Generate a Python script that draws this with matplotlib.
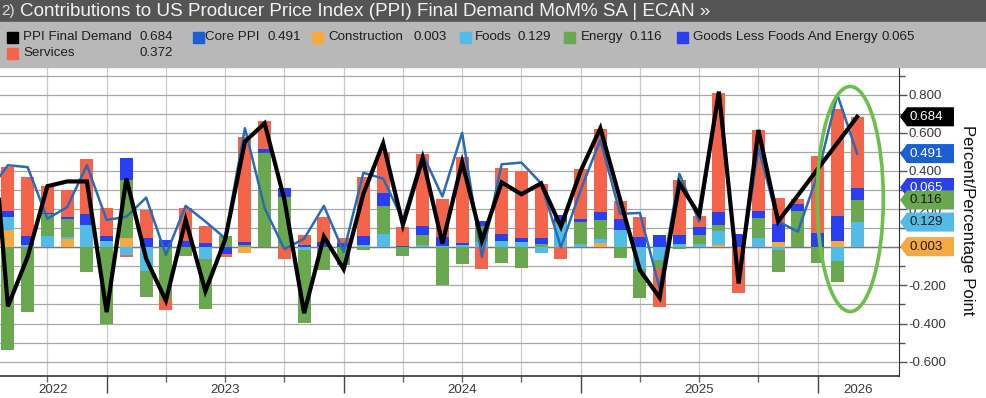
import numpy as np
import pandas as pd
import matplotlib
matplotlib.use("Agg")
import matplotlib.pyplot as plt
from matplotlib.patches import Polygon, Ellipse, Rectangle
from matplotlib.transforms import blended_transform_factory

plt.rcParams['font.family'] = ['Liberation Sans', 'DejaVu Sans']

# monthly observations, Jun 2022 .. Feb 2026 (Jun 2022 only feeds the lines)
months = pd.period_range("2022-06", "2026-02", freq="M")

construction = [np.nan, 0.09, 0.0, 0.0, 0.045, 0.0, 0.0, 0.05, 0.0, 0.0, 0.0, 0.0, 0.0,
                -0.028, 0.0, 0.0, 0.0, 0.0, 0.0, 0.0, 0.0, 0.0, 0.0, 0.0, 0.0, 0.0,
                0.0, 0.0, 0.0, 0.0, 0.0, 0.02, 0.0, 0.0, 0.0, 0.0, 0.0, 0.012, 0.0,
                0.0, 0.03, 0.0, 0.0, 0.035, 0.003]
foods = [np.nan, 0.07, 0.01, 0.06, 0.008, 0.117, 0.035, -0.04, -0.122, 0.0, 0.0, -0.06, 0.0,
         0.0, 0.0, 0.0, -0.015, 0.0, 0.0, 0.01, 0.068, 0.0, 0.01, 0.008, 0.01, 0.025,
         0.035, 0.026, -0.03, 0.12, 0.017, 0.024, 0.09, -0.115, -0.066, 0.017, 0.017, 0.072, 0.0,
         0.047, -0.017, 0.0, 0.0, -0.07, 0.129]
energy = [np.nan, -0.54, -0.34, 0.115, 0.096, -0.128, -0.40, 0.30, -0.14, -0.27, -0.045, -0.264, 0.06,
          0.012, 0.493, 0.266, -0.38, -0.12, -0.095, -0.017, 0.149, -0.044, 0.056, -0.20, -0.087, 0.085,
          -0.08, -0.107, 0.016, 0.015, 0.114, 0.10, -0.058, -0.15, -0.045, -0.01, 0.047, 0.035, 0.0,
          0.105, -0.115, 0.19, -0.084, -0.114, 0.116]
goods_ex = [np.nan, 0.03, 0.05, 0.005, 0.01, 0.058, 0.025, 0.12, 0.05, 0.036, 0.033, 0.02, -0.035,
            0.015, 0.023, 0.044, 0.013, 0.026, 0.02, 0.047, 0.066, 0.008, 0.047, 0.044, 0.014, 0.03,
            0.033, 0.02, 0.03, 0.032, 0.017, 0.04, 0.058, 0.056, 0.063, 0.047, 0.04, 0.068, 0.07,
            0.038, 0.09, 0.035, 0.077, 0.13, 0.065]
services = [np.nan, 0.23, 0.31, 0.143, 0.14, 0.29, 0.145, -0.013, 0.145, -0.06, 0.175, 0.092, -0.014,
            0.55, 0.147, -0.06, 0.05, 0.135, 0.03, 0.31, 0.215, 0.10, 0.378, 0.20, 0.45, -0.115,
            0.35, 0.353, 0.285, -0.06, 0.262, 0.437, 0.094, 0.10, -0.20, 0.29, 0.06, 0.622, -0.24,
            0.425, 0.14, 0.028, 0.40, 0.56, 0.372]
ppi_final = [0.93, -0.31, -0.05, 0.32, 0.345, 0.345, -0.34, 0.36, -0.06, -0.28, 0.143, -0.23, 0.04,
             0.554, 0.65, 0.25, -0.346, 0.056, -0.115, 0.28, 0.545, 0.117, 0.467, 0.02, 0.446, 0.035,
             0.34, 0.278, 0.335, 0.108, 0.40, 0.624, 0.25, -0.12, -0.264, 0.335, 0.17, 0.816, -0.19,
             0.615, 0.135, np.nan, np.nan, np.nan, 0.684]
core_ppi = [0.29, 0.43, 0.42, 0.15, 0.21, 0.43, 0.143, 0.16, 0.26, -0.04, 0.217, 0.135, 0.047,
            0.624, 0.205, -0.01, 0.045, 0.217, -0.025, 0.39, 0.36, 0.143, 0.488, 0.266, 0.60, -0.05,
            0.435, 0.444, 0.335, 0.0, 0.30, 0.563, 0.175, 0.18, -0.215, 0.385, 0.135, 0.80, -0.18,
            0.52, 0.135, 0.082, 0.38, 0.80, 0.491]

components = [("Construction", construction, "#f5a940"),
              ("Foods", foods, "#52bce6"),
              ("Energy", energy, "#6aa84f"),
              ("Goods Less Foods And Energy", goods_ex, "#2b3ff2"),
              ("Services", services, "#f4644b")]
c_core = "#1b5fd4"
c_core_line = "#2a6bb5"

W, H = 986, 398
fig = plt.figure(figsize=(W / 100, H / 100), dpi=100)
fx = lambda px: px / W
fy = lambda py: 1 - py / H

# header bands
fig.patches.append(Rectangle((0, fy(22)), 1, 22 / H, transform=fig.transFigure,
                             color="#555555", zorder=0))
fig.patches.append(Rectangle((0, fy(67)), 1, 45 / H, transform=fig.transFigure,
                             color="#b8b8b8", zorder=0))
fig.text(fx(1), fy(11), "2)", color="#dddddd", fontsize=11, va="center", ha="left")
fig.text(fx(20), fy(11.5), "Contributions to US Producer Price Index (PPI) Final Demand MoM% SA | ECAN \u00bb",
         color="#f2f2f2", fontsize=13.6, va="center", ha="left")

ax = fig.add_axes([0, fy(376), fx(899), (376 - 67) / H])
x = np.arange(len(months))

pos_bottom = np.zeros(len(x))
neg_bottom = np.zeros(len(x))
for name, vals, col in components:
    v = np.nan_to_num(np.array(vals, dtype=float))
    pos = np.where(v > 0, v, 0)
    neg = np.where(v < 0, v, 0)
    ax.bar(x, pos, bottom=pos_bottom, width=0.66, color=col, zorder=2)
    ax.bar(x, neg, bottom=neg_bottom, width=0.66, color=col, zorder=2)
    pos_bottom += pos
    neg_bottom += neg

core = np.array(core_ppi, dtype=float)
ax.plot(x, core, color=c_core_line, lw=1.8, zorder=3)
head = np.array(ppi_final, dtype=float)
ok = ~np.isnan(head)
ax.plot(x[ok], head[ok], color="black", lw=3, zorder=4, solid_joinstyle="miter")

xmin, xmax = 0.6, 46.12

# grid
ax.set_yticks(np.arange(-0.6, 0.81, 0.2))
ax.set_yticks(np.arange(-0.6, 0.91, 0.1), minor=True)
ax.set_yticklabels(["" if abs(t) < 1e-9 else f"{t:.3f}" for t in np.arange(-0.6, 0.81, 0.2)])
ax.grid(which="both", axis="y", color="#a8a8a8", lw=0.9, zorder=0)
ax.set_axisbelow(True)
qtr = [i for i, m in enumerate(months) if m.month in (3, 6, 9, 12) and i > xmin]
dec = [i for i, m in enumerate(months) if m.month == 12]
for q in qtr:
    ax.axvline(q, color="#c9c9c9", lw=0.9, zorder=0)
ax.axhline(0, color="#7a7a7a", lw=1.0, zorder=1)

ax.yaxis.tick_right()
ax.tick_params(axis="y", which="major", length=6, width=1, color="#555555",
               labelcolor="#3a3a3a", labelsize=9.6, pad=1)
ax.tick_params(axis="y", which="minor", length=4, width=1, color="#555555")
ax.set_xticks(dec)
ax.set_xticks(qtr, minor=True)
ax.set_xticklabels([])
ax.tick_params(axis="x", which="major", length=12, width=1, color="#444444")
ax.tick_params(axis="x", which="minor", length=4, width=1, color="#666666")
ax.set_xlim(xmin, xmax)
ax.set_ylim(-0.675, 0.945)
for s in ["top", "left"]:
    ax.spines[s].set_visible(False)
ax.spines["right"].set_color("#333333")
ax.spines["bottom"].set_color("#333333")
ax.spines["bottom"].set_linewidth(1.2)

# year labels centred on each visible year span
tx = blended_transform_factory(ax.transData, ax.transAxes)
edges = [xmin] + dec + [xmax]
for k, (a, b) in enumerate(zip(edges[:-1], edges[1:])):
    year = months[0].year + k
    ax.text((a + b) / 2, -14 / 309, str(year), transform=tx, ha="center", va="center",
            fontsize=9.6, color="#3a3a3a", clip_on=False)

# highlight ellipse around the latest prints
ax.add_patch(Ellipse((x[-2:].mean() + 0.15, 0.253), 3.35, 1.18, fill=False,
                     edgecolor="#6cc04a", lw=2.6, zorder=5, clip_on=False))

# right-hand value tags (components sit at cumulative stack tops)
tags = []
cum = 0.0
for name, vals, col in components[:4]:
    cum += vals[-1]
    tags.append((cum, vals[-1], col))
tags = tags[::-1]
txt_col = {"#2b3ff2": "white", "#6aa84f": "#1a1a1a", "#52bce6": "#1a1a1a", "#f5a940": "#1a1a1a"}
tags = [(t[0], t[1], t[2], txt_col[t[2]]) for t in tags]
tags.append((core[-1], core[-1], c_core, "white"))
tags.append((head[-1], head[-1], "black", "white"))
tt = blended_transform_factory(fig.transFigure, ax.transData)
hh = 0.05
for yc, val, col, tcol in tags:
    poly = Polygon([(fx(900), yc), (fx(907), yc + hh), (fx(954), yc + hh), (fx(954), yc - hh),
                    (fx(907), yc - hh)], closed=True, transform=tt, facecolor=col,
                   edgecolor="none", clip_on=False, zorder=10)
    ax.add_patch(poly)
    ax.text(fx(909), yc, f"{val:.3f}", transform=tt, ha="left", va="center",
            fontsize=9.6, color=tcol, zorder=11, clip_on=False)

fig.text(fx(967), fy(220), "Percent/Percentage Point", rotation=270, ha="center",
         va="center", fontsize=12, color="#111111")

# legend band
sq = 11
legend_row1 = [("PPI Final Demand", f"{ppi_final[-1]:.3f}", "black", 7, 23, 140),
               ("Core PPI", f"{core_ppi[-1]:.3f}", c_core, 193, 205, 267),
               ("Construction", f"{construction[-1]:.3f}", "#f5a940", 312, 328, 413),
               ("Foods", f"{foods[-1]:.3f}", "#52bce6", 460, 475, 518),
               ("Energy", f"{energy[-1]:.3f}", "#6aa84f", 564, 581, 630),
               ("Goods Less Foods And Energy", f"{goods_ex[-1]:.3f}", "#2b3ff2", 677, 693, 882)]
legend_row2 = [("Services", f"{services[-1]:.3f}", "#f4644b", 7, 23, 140)]
for row, yc in ((legend_row1, 37), (legend_row2, 53)):
    for lab, val, col, xs, xl, xv in row:
        fig.patches.append(Rectangle((fx(xs), fy(yc + sq / 2)), sq / W, sq / H,
                                     transform=fig.transFigure, color=col, zorder=1))
        fig.text(fx(xl), fy(yc), lab, fontsize=9.6, color="#1e1e1e", va="center", ha="left")
        fig.text(fx(xv), fy(yc), val, fontsize=9.6, color="#1e1e1e", va="center", ha="left")

fig.savefig("out.png", dpi=100)
